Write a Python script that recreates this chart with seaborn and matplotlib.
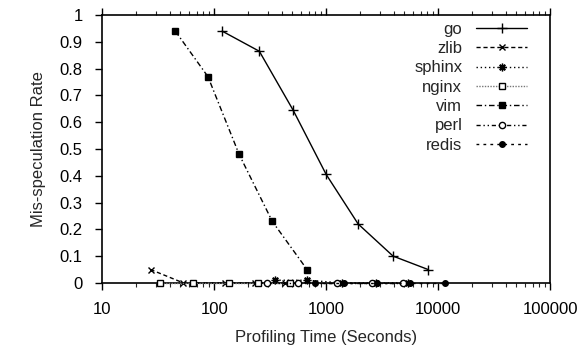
import numpy as np
import pandas as pd
import seaborn as sns
import matplotlib.pyplot as plt
from matplotlib.ticker import LogLocator, FixedLocator, FormatStrFormatter

# profiling time (seconds) and mis-speculation rate per benchmark
go_t = [118, 253, 507, 1000, 1930, 3960, 8130]
go_rate = [0.94, 0.865, 0.645, 0.405, 0.22, 0.10, 0.05]
zlib_t = [27, 53, 125, 232, 431]
zlib_rate = [0.05, 0, 0, 0, 0]
sphinx_t = [351, 677, 1390, 2795, 5400]
sphinx_rate = [0.01, 0.01, 0, 0, 0]
nginx_t = [33, 65, 136, 247, 477]
nginx_rate = [0, 0, 0, 0, 0]
vim_t = [45, 88, 167, 330, 675]
vim_rate = [0.94, 0.77, 0.48, 0.23, 0.05]
perl_t = [297, 563, 1254, 2575, 4870]
perl_rate = [0, 0, 0, 0, 0]
redis_t = [797, 1450, 2850, 5600, 11560]
redis_rate = [0, 0, 0, 0, 0]

series = [
    ('go', go_t, go_rate, dict(linestyle='-', marker='+', ms=7)),
    ('zlib', zlib_t, zlib_rate, dict(linestyle=(0, (3, 2)), marker='x', ms=4.5)),
    ('sphinx', sphinx_t, sphinx_rate, dict(linestyle=(0, (1, 2)), marker=(8, 2, 0), ms=5.5)),
    ('nginx', nginx_t, nginx_rate, dict(linestyle=(0, (1, 1)), marker='s', ms=4.5, mfc='white', color='#777777')),
    ('vim', vim_t, vim_rate, dict(linestyle=(0, (4, 2, 1, 2)), marker='s', ms=5)),
    ('perl', perl_t, perl_rate, dict(linestyle=(0, (3, 2, 1, 2, 1, 2)), marker='o', ms=4.5, mfc='white')),
    ('redis', redis_t, redis_rate, dict(linestyle=(0, (2, 3)), marker='o', ms=4)),
]

sns.set_style('ticks')
plt.rcParams['font.family'] = ['Liberation Sans', 'DejaVu Sans']

fig, ax = plt.subplots(figsize=(5.84, 3.51), dpi=100)
fig.subplots_adjust(left=0.175, right=0.942, top=0.957, bottom=0.194)

for name, t, r, style in series:
    kw = dict(color='black', lw=1.0, mec='black', mew=1.0)
    kw.update(style)
    sns.lineplot(x=t, y=r, ax=ax, label=name, clip_on=False, zorder=3, **kw)

ax.set_xscale('log')
ax.set_xlim(10, 100000)
ax.set_ylim(0, 1)
ax.yaxis.set_major_locator(FixedLocator(np.arange(0, 1.01, 0.1)))
ax.yaxis.set_major_formatter(FormatStrFormatter('%g'))
ax.xaxis.set_major_locator(LogLocator(base=10))
ax.xaxis.set_minor_locator(LogLocator(base=10, subs=np.arange(2, 10)))
ax.set_xticklabels([], minor=True)
ax.xaxis.set_major_formatter(FormatStrFormatter('%d'))

for s in ax.spines.values():
    s.set_visible(True)
    s.set_linewidth(1.2)
    s.set_color('black')

ax.tick_params(axis='both', which='major', direction='out', length=5, width=1, labelsize=12, colors='black')
ax.tick_params(axis='x', which='minor', direction='out', length=3, width=0.8, top=True)
ax.tick_params(axis='x', which='major', top=True, pad=9)
ax.tick_params(axis='y', which='major', right=False, pad=9)

ax.set_xlabel('Profiling Time (Seconds)', fontsize=12, labelpad=9)
ax.set_ylabel('Mis-speculation Rate', fontsize=12, labelpad=10)

ax.legend(loc='upper right', bbox_to_anchor=(0.964, 1.0), borderaxespad=0, frameon=False,
          markerfirst=False, fontsize=12, handlelength=3.1, labelspacing=0.26,
          handletextpad=0.8)

fig.savefig('out.png', dpi=100)
